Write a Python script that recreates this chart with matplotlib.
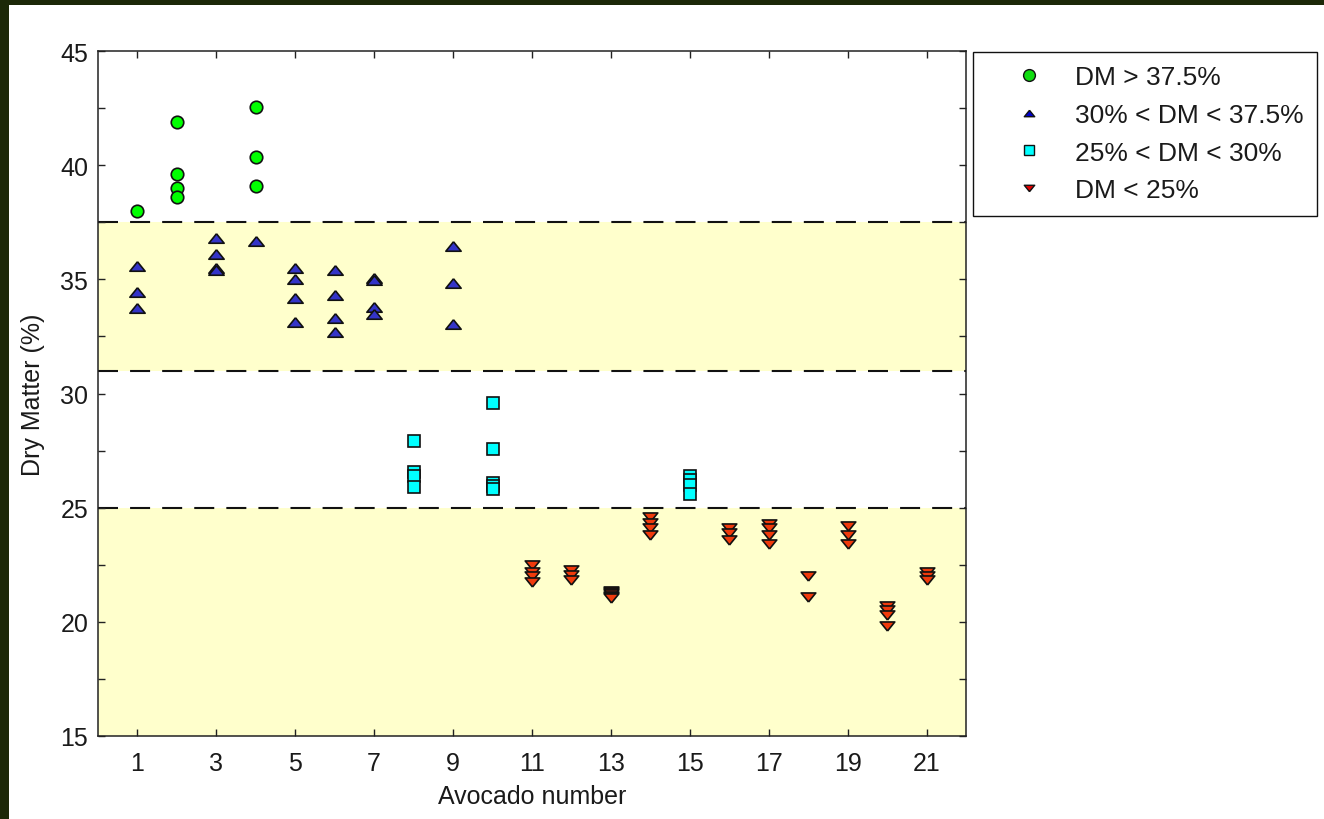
import matplotlib
matplotlib.use("Agg")
import matplotlib.pyplot as plt
from matplotlib.lines import Line2D
from matplotlib.patches import Rectangle
import numpy as np

plt.rcParams["font.family"] = ["Liberation Sans", "DejaVu Sans"]

# Dry matter (%) per avocado, grouped by class
avocado_high = [1, 2, 2, 2, 2, 4, 4, 4]
dm_high = [38.0, 41.9, 39.6, 39.0, 38.6, 42.55, 40.35, 39.1]

avocado_mid = [1, 1, 1, 3, 3, 3, 3, 4, 5, 5, 5, 5, 6, 6, 6, 6, 7, 7, 7, 7, 9, 9, 9]
dm_mid = [35.6, 34.45, 33.75, 36.8, 36.1, 35.5, 35.4, 36.7,
          35.5, 35.0, 34.2, 33.15, 35.4, 34.3, 33.3, 32.7,
          35.05, 34.95, 33.8, 33.5, 36.45, 34.85, 33.05]

avocado_low = [8, 8, 8, 8, 10, 10, 10, 10, 10, 15, 15, 15, 15]
dm_low = [27.9, 26.55, 26.4, 25.9, 29.6, 27.55, 26.1, 25.95, 25.8,
          26.4, 26.2, 26.0, 25.6]

avocado_vlow = ([11] * 4 + [12] * 3 + [13] * 7 + [14] * 4 + [16] * 3 +
                [17] * 4 + [18] * 2 + [19] * 3 + [20] * 4 + [21] * 3)
dm_vlow = [22.5, 22.2, 22.0, 21.75,
           22.25, 22.05, 21.85,
           21.35, 21.3, 21.25, 21.2, 21.15, 21.1, 21.05,
           24.6, 24.35, 24.1, 23.8,
           24.1, 23.9, 23.6,
           24.3, 24.1, 23.8, 23.4,
           22.0, 21.1,
           24.2, 23.8, 23.4,
           20.7, 20.5, 20.3, 19.8,
           22.2, 22.0, 21.85]

thresholds = [37.5, 31.0, 25.0]
bands = [(31.0, 37.5), (15.0, 25.0)]
legend_labels = ["DM > 37.5%", "30% < DM < 37.5%", "25% < DM < 30%", "DM < 25%"]
x_ticks = list(range(1, 22, 2))
y_ticks = [15, 20, 25, 30, 35, 40, 45]

# flattened triangle markers
tri_up = [(0, 0.62), (-1, -0.62), (1, -0.62), (0, 0.62)]
tri_down = [(0, -0.62), (-1, 0.62), (1, 0.62), (0, -0.62)]

W, H, DPI = 1324, 820, 100
fig = plt.figure(figsize=(W / DPI, H / DPI), dpi=DPI, facecolor="white")

# dark leafy frame strip along the top and left edges
fig.patches.append(Rectangle((0, 0), 9 / W, 1, transform=fig.transFigure,
                             facecolor="#1c2808", edgecolor="none", zorder=5))
fig.patches.append(Rectangle((0, 1 - 6 / H), 1, 6 / H, transform=fig.transFigure,
                             facecolor="#1c2808", edgecolor="none", zorder=5))

ax = fig.add_axes([98 / W, 1 - 737 / H, 868 / W, 685 / H])
ax.set_xlim(0, 22)
ax.set_ylim(15, 45)

for lo, hi in bands:
    ax.axhspan(lo, hi, color="#FFFFCC", lw=0, zorder=0)
for t in thresholds:
    ax.axhline(t, color="#111111", lw=1.5, linestyle=(0, (9.6, 5.8)), zorder=1)

mk = dict(linestyle="none", markeredgecolor="#111111", markeredgewidth=1.2, zorder=3)
ax.plot(avocado_high, dm_high, marker="o", ms=9, markerfacecolor="#00FF00", **mk)
ax.plot(avocado_mid, dm_mid, marker=tri_up, ms=11, markerfacecolor="#3434C8", **mk)
ax.plot(avocado_low, dm_low, marker="s", ms=9, markerfacecolor="#00FFFF", **mk)
ax.plot(avocado_vlow, dm_vlow, marker=tri_down, ms=10.5, markerfacecolor="#F03A0C", **mk)

ax.set_xticks(x_ticks)
ax.set_yticks(y_ticks)
ax.set_yticks(np.arange(17.5, 45, 5), minor=True)
ax.tick_params(axis="both", which="both", direction="in", length=5, width=1,
               color="#222222", top=True, right=True, labelsize=18,
               labelcolor="#1a1a1a", pad=7)
ax.tick_params(axis="x", pad=10.5)
for s in ax.spines.values():
    s.set_color("#222222")
    s.set_linewidth(1.1)

ax.set_xlabel("Avocado number", fontsize=18, color="#1a1a1a")
ax.set_ylabel("Dry Matter (%)", fontsize=18, color="#1a1a1a")
ax.xaxis.set_label_coords(0.5, -(785 - 737) / 685)
ax.yaxis.set_label_coords((45 - 98) / 868, 0.5)

handles = [
    Line2D([], [], linestyle="none", marker="o", ms=8.5, markerfacecolor="#10DD10",
           markeredgecolor="#111111", markeredgewidth=1.0),
    Line2D([], [], linestyle="none", marker=tri_up, ms=7.5, markerfacecolor="#0000CC",
           markeredgecolor="#111111", markeredgewidth=1.0),
    Line2D([], [], linestyle="none", marker="s", ms=7, markerfacecolor="#00FFFF",
           markeredgecolor="#111111", markeredgewidth=1.0),
    Line2D([], [], linestyle="none", marker=tri_down, ms=7.5, markerfacecolor="#E00000",
           markeredgecolor="#111111", markeredgewidth=1.0),
]
leg = fig.legend(handles, legend_labels, loc="upper left",
                 bbox_to_anchor=(973 / W, 1 - 53 / H), bbox_transform=fig.transFigure,
                 borderaxespad=0, borderpad=0.5, handlelength=3.25, handletextpad=0.11,
                 labelspacing=0.52, fontsize=19, frameon=True, fancybox=False,
                 edgecolor="#111111", facecolor="white", framealpha=1)
leg.get_frame().set_linewidth(1.0)
for txt in leg.get_texts():
    txt.set_color("#1a1a1a")

fig.savefig("out.png", dpi=DPI, facecolor="white")
